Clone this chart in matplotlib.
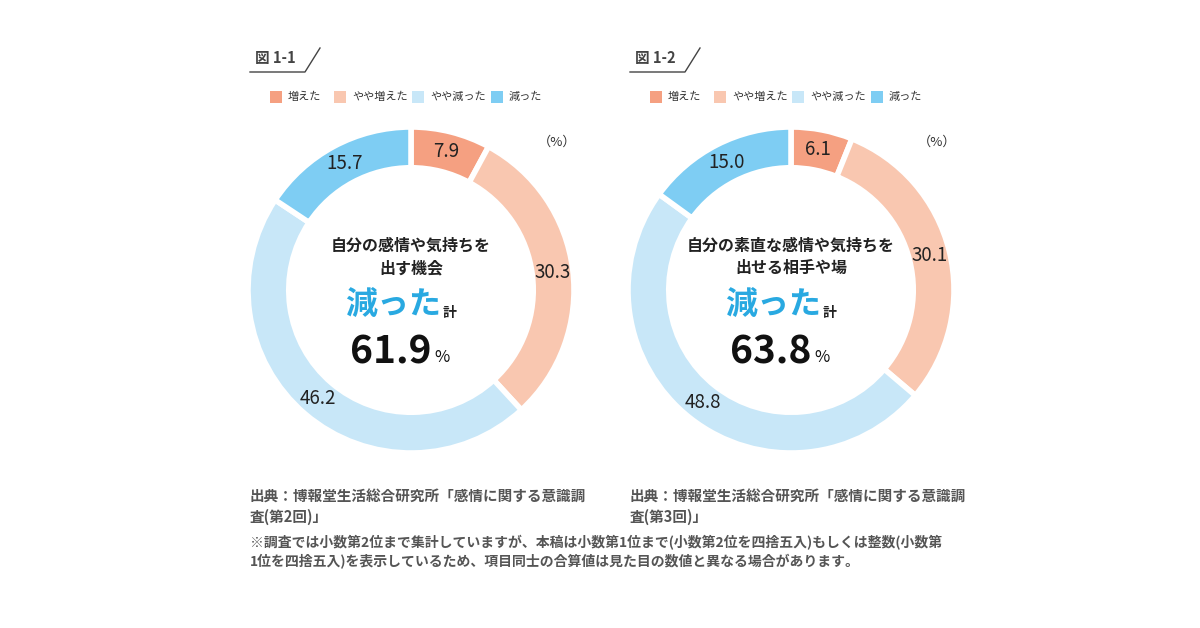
import matplotlib
matplotlib.use("Agg")
import matplotlib.pyplot as plt
from matplotlib.lines import Line2D
from matplotlib.patches import Rectangle
import numpy as np

plt.rcParams['font.family'] = ['Noto Sans CJK JP', 'DejaVu Sans']

categories = ["増えた", "やや増えた", "やや減った", "減った"]
colors = ["#F5A081", "#F9C7B0", "#C8E7F8", "#7ECDF3"]
values1 = [7.9, 30.3, 46.2, 15.7]
values2 = [6.1, 30.1, 48.8, 15.0]
titles = ["図 1-1", "図 1-2"]
center_lines = [["自分の感情や気持ちを", "出す機会"], ["自分の素直な感情や気持ちを", "出せる相手や場"]]
totals = ["61.9", "63.8"]
sources = [["出典：博報堂生活総合研究所「感情に関する意識調", "査(第2回)」"],
           ["出典：博報堂生活総合研究所「感情に関する意識調", "査(第3回)」"]]
note = ["※調査では小数第2位まで集計していますが、本稿は小数第1位まで(小数第2位を四捨五入)もしくは整数(小数第",
        "1位を四捨五入)を表示しているため、項目同士の合算値は見た目の数値と異なる場合があります。"]

W, H = 1200, 628
fig = plt.figure(figsize=(12, 6.28), dpi=100)
fig.patch.set_facecolor("white")
ov = fig.add_axes([0, 0, 1, 1])
ov.set_xlim(0, W); ov.set_ylim(H, 0); ov.axis("off")

gray = "#555555"
blue = "#29A9E1"
R = 163
for i, vals in enumerate([values1, values2]):
    cx, cy = 411 + 380 * i, 290
    ax = fig.add_axes([(cx - R) / W, (H - cy - R) / H, 2 * R / W, 2 * R / H])
    ax.pie(vals, colors=colors, startangle=90, counterclock=False,
           radius=1, wedgeprops=dict(width=0.25, edgecolor="white", linewidth=4))
    ax.set_aspect("equal"); ax.set_xlim(-1, 1); ax.set_ylim(-1, 1)
    cum = 0
    for v in vals:
        mid = np.deg2rad(90 - (cum + v / 2) * 3.6)
        cum += v
        ax.text(0.875 * np.cos(mid), 0.875 * np.sin(mid), f"{v:.1f}", ha="center", va="center",
                fontsize=13.5, color="#222222")
    x0 = 250 + 380 * i
    ov.text(x0 + 5, 58, titles[i], fontsize=10.5, fontweight="bold", color="#444444", va="center")
    ov.add_line(Line2D([x0, x0 + 55, x0 + 70], [72, 72, 48], color="#444444", lw=1))
    lx = [276, 340, 418, 497]
    for k, cat in enumerate(categories):
        xx = lx[k] + 380 * i
        ov.add_patch(Rectangle((xx - 6, 91), 12, 12, color=colors[k], lw=0))
        ov.text(xx + 12, 97, cat, fontsize=8, color="#333333", va="center")
    ov.text(557 + 380 * i, 142, "（%）", fontsize=9.5, color="#333333", va="center", ha="center")
    ov.text(cx, 246, center_lines[i][0], fontsize=11.5, fontweight="bold", ha="center", va="center", color="#222222")
    ov.text(cx, 268, center_lines[i][1], fontsize=11.5, fontweight="bold", ha="center", va="center", color="#222222")
    ov.text(cx + 30, 306, "減った", fontsize=23, fontweight="bold", ha="right", va="center", color=blue)
    ov.text(cx + 32, 313, "計", fontsize=10, fontweight="bold", ha="left", va="center", color="#222222")
    ov.text(cx + 20, 352, totals[i], fontsize=28, fontweight="bold", ha="right", va="center", color="#111111")
    ov.text(cx + 23, 357, "%", fontsize=12, ha="left", va="center", color="#111111")
    ov.text(x0, 497, sources[i][0], fontsize=10.5, fontweight="bold", color=gray, va="center")
    ov.text(x0, 517, sources[i][1], fontsize=10.5, fontweight="bold", color=gray, va="center")

ov.text(250, 543, note[0], fontsize=10, fontweight="bold", color=gray, va="center")
ov.text(250, 562, note[1], fontsize=10, fontweight="bold", color=gray, va="center")

fig.savefig("out.png", dpi=100, facecolor="white")
